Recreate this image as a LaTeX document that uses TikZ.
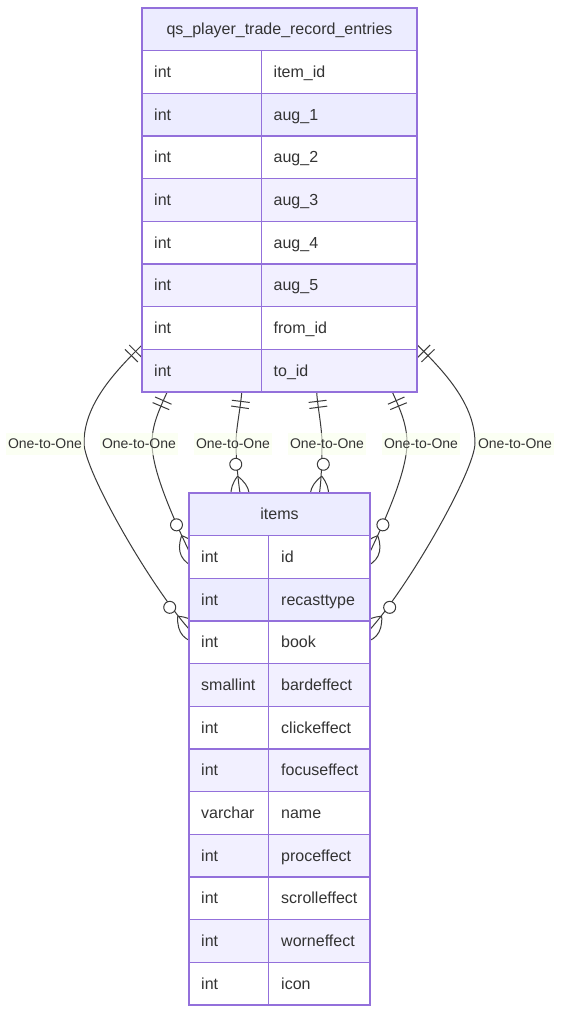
\documentclass[tikz,border=0pt]{standalone}
\usepackage{fontspec}
\setmainfont{Liberation Sans}
\usetikzlibrary{decorations.markings,calc}
\definecolor{hdr}{HTML}{ECECFF}
\definecolor{rowA}{HTML}{ECECFF}
\definecolor{rowB}{HTML}{F2F0FF}
\definecolor{bord}{HTML}{9370DB}
\definecolor{txt}{HTML}{333333}
\definecolor{edgec}{HTML}{3A3A3A}
\definecolor{lblbg}{RGB}{249,255,236}
\begin{document}
\begin{tikzpicture}[x=1pt,y=-1pt,
  cellbox/.style={draw=bord, line width=1.6pt},
  celltext/.style={text=txt, inner sep=0pt, font=\fontsize{16}{19}\selectfont},
  edgeline/.style={draw=edgec, line width=1pt},
  mk/.style={draw=edgec, line width=1pt},
  onestart/.style={postaction={decorate,decoration={markings,
     mark=at position 9pt with {\draw[mk] (0pt,-9pt) -- (0pt,9pt);},
     mark=at position 15pt with {\draw[mk] (0pt,-9pt) -- (0pt,9pt);}}}},
  zmend/.style={postaction={decorate,decoration={markings,
     mark=at position 0.99999 with {\draw[mk,fill=white] (-29pt,0pt) circle[radius=6pt];
       \draw[mk] (-17pt,0pt) .. controls (-5pt,-12pt) and (7pt,-12pt) .. (19pt,0pt)
                 .. controls (7pt,12pt) and (-5pt,12pt) .. (-17pt,0pt);}}}},
  lbl/.style={fill=lblbg, fill opacity=0.6, text opacity=1, text=txt,
     font=\fontsize{14}{17}\selectfont, inner xsep=2pt, inner ysep=3pt,
     text height=12pt, text depth=4pt, anchor=base}
]
\useasboundingbox (0,0) rectangle (560,1015);
\fill[white] (0,0) rectangle (560,1015);

% entity frames (invisible, for naming)
\node[inner sep=0pt, minimum width=275pt, minimum height=384pt, anchor=north west] (qs) at (142,8) {};
\node[inner sep=0pt, minimum width=181pt, minimum height=512pt, anchor=north west] (items) at (189,493) {};

% connector anchor points
\coordinate (s1) at ($(qs.north west)+(0,337)$);
\coordinate (s2) at ($(qs.south west)+(25,0)$);
\coordinate (s3) at ($(qs.south west)+(99.7,0)$);
\coordinate (s4) at ($(qs.south west)+(174.7,0)$);
\coordinate (s5) at ($(qs.south west)+(250.5,0)$);
\coordinate (s6) at ($(qs.north east)+(0,337)$);
\coordinate (m1) at (84,443);
\coordinate (m2) at (152,443);
\coordinate (m3) at (236,443);
\coordinate (m4) at (322,443);
\coordinate (m5) at (407,443);
\coordinate (m6) at (475,443);
\coordinate (e1) at ($(items.north west)+(0,136)$);
\coordinate (e2) at ($(items.north west)+(0,58)$);
\coordinate (e3) at ($(items.north west)+(51,0)$);
\coordinate (e4) at ($(items.north west)+(130.5,0)$);
\coordinate (e5) at ($(items.north east)+(0,58)$);
\coordinate (e6) at ($(items.north east)+(0,136)$);

% connectors
\draw[edgeline, onestart, zmend] (s1) .. controls +(-28.4,28) and +(0,-38) .. (m1)
      .. controls +(0,27) and +(-40,-45) .. (e1);
\draw[edgeline, onestart, zmend] (s2) .. controls +(-8.2,18.2) and +(0,-18) .. (m2)
      .. controls +(0,27) and +(-17.2,-36) .. (e2);
\draw[edgeline, onestart, zmend] (s3) .. controls +(-1,15) and +(0,-15) .. (m3)
      .. controls +(0,15) and +(-2.2,-15) .. (e3);
\draw[edgeline, onestart, zmend] (s4) .. controls +(1,15) and +(0,-15) .. (m4)
      .. controls +(0,15) and +(2,-15) .. (e4);
\draw[edgeline, onestart, zmend] (s5) .. controls +(8.2,18.2) and +(0,-18) .. (m5)
      .. controls +(0,27) and +(17.2,-36) .. (e5);
\draw[edgeline, onestart, zmend] (s6) .. controls +(28.4,28) and +(0,-38) .. (m6)
      .. controls +(0,27) and +(40,-45) .. (e6);

% labels
\node[lbl] (l1) at (45,448) {One-to-One};
\node[lbl] (l2) at (139,448) {One-to-One};
\node[lbl] (l3) at (233,448) {One-to-One};
\node[lbl] (l4) at (327,448) {One-to-One};
\node[lbl] (l5) at (421,448) {One-to-One};
\node[lbl] (l6) at (515,448) {One-to-One};

% table qs_player_trade_record_entries
\path[cellbox, fill=hdr] (142,8) rectangle (417,50.667);
\node[celltext, anchor=base] (qs-title) at (279.5,34.8) {qs\_player\_trade\_record\_entries};
\foreach \i/\ty/\nm/\fc in {1/int/item\_id/white, 2/int/aug\_1/rowA, 3/int/aug\_2/white,
   4/int/aug\_3/rowB, 5/int/aug\_4/white, 6/int/aug\_5/rowB, 7/int/from\_id/white, 8/int/to\_id/rowB} {
  \pgfmathsetmacro\yt{8+42.667*\i}
  \pgfmathsetmacro\yb{\yt+42.667}
  \pgfmathsetmacro\ym{\yt+21.333+5.5}
  \path[cellbox, fill=\fc] (142,\yt) rectangle (261.5,\yb);
  \path[cellbox, fill=\fc] (261.5,\yt) rectangle (417,\yb);
  \node[celltext, anchor=base west] (qs-t\i) at (154,\ym) {\ty};
  \node[celltext, anchor=base west] (qs-n\i) at (273.5,\ym) {\nm};
}

% table items
\path[cellbox, fill=hdr] (189,493) rectangle (370,535.667);
\node[celltext, anchor=base] (items-title) at (279.5,519.8) {items};
\foreach \i/\ty/\nm/\fc in {1/int/id/white, 2/int/recasttype/rowA, 3/int/book/white,
   4/smallint/bardeffect/rowB, 5/int/clickeffect/white, 6/int/focuseffect/rowB,
   7/varchar/name/white, 8/int/proceffect/rowB, 9/int/scrolleffect/white,
   10/int/worneffect/rowB, 11/int/icon/white} {
  \pgfmathsetmacro\yt{493+42.667*\i}
  \pgfmathsetmacro\yb{\yt+42.667}
  \pgfmathsetmacro\ym{\yt+21.333+5.5}
  \path[cellbox, fill=\fc] (189,\yt) rectangle (268.3,\yb);
  \path[cellbox, fill=\fc] (268.3,\yt) rectangle (370,\yb);
  \node[celltext, anchor=base west] (items-t\i) at (201,\ym) {\ty};
  \node[celltext, anchor=base west] (items-n\i) at (281,\ym) {\nm};
}
\end{tikzpicture}
\end{document}
